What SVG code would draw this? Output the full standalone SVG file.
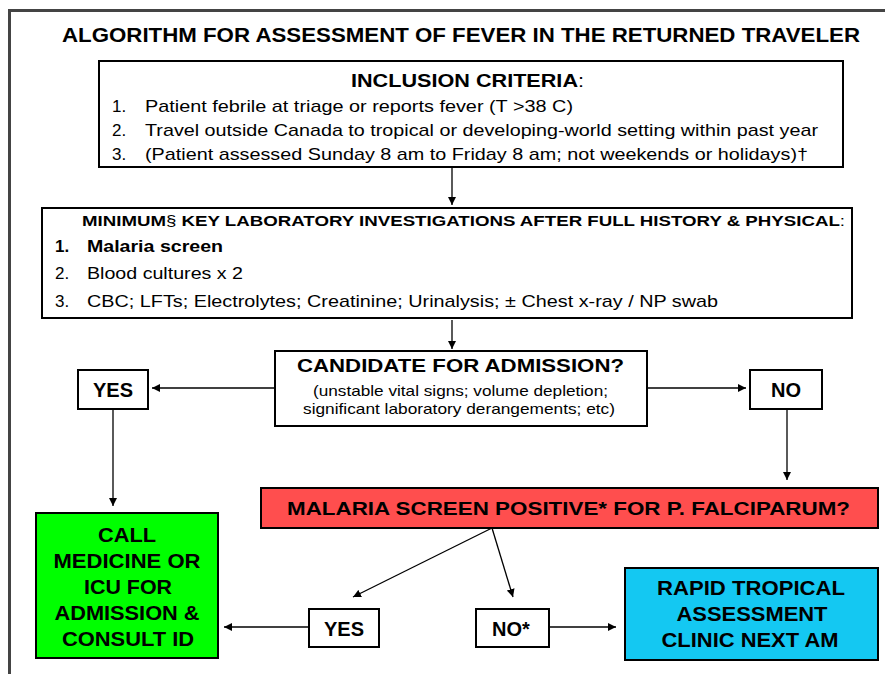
<svg xmlns="http://www.w3.org/2000/svg" width="885" height="674" viewBox="0 0 885 674">
<defs>
<marker id="ah" viewBox="0 0 10 10" refX="10" refY="5" markerWidth="8" markerHeight="8" markerUnits="userSpaceOnUse" orient="auto">
<path d="M0,0 L10,5 L0,10 z" fill="#000"/>
</marker>
<style>
text{font-family:"Liberation Sans",Arial,sans-serif;fill:#000}
.b{font-weight:bold}
.t{font-size:19px;font-weight:bold}
.g{font-size:20px;font-weight:bold}
.body{font-size:17px}
.box{fill:#fff;stroke:#000;stroke-width:2}
.c{text-anchor:middle}
.conn line{stroke:#000;stroke-width:1.3;marker-end:url(#ah)}
</style>
</defs>
<rect x="0" y="0" width="885" height="674" fill="#fff"/>
<rect x="9.5" y="10.5" width="890" height="680" fill="none" stroke="#444" stroke-width="3"/>
<text class="c" font-size="20" font-weight="bold" x="461" y="42" textLength="798" lengthAdjust="spacingAndGlyphs">ALGORITHM FOR ASSESSMENT OF FEVER IN THE RETURNED TRAVELER</text>

<g id="inclusion">
<rect class="box" x="99" y="61" width="744" height="106"/>
<text class="t" x="351" y="87" textLength="233" lengthAdjust="spacingAndGlyphs">INCLUSION CRITERIA<tspan font-weight="normal">:</tspan></text>
<text class="body" x="112" y="112">1.</text>
<text class="body" x="145" y="112" textLength="428" lengthAdjust="spacingAndGlyphs">Patient febrile at triage or reports fever (T &gt;38 C)</text>
<text class="body" x="112" y="136">2.</text>
<text class="body" x="145" y="136" textLength="673" lengthAdjust="spacingAndGlyphs">Travel outside Canada to tropical or developing-world setting within past year</text>
<text class="body" x="112" y="160">3.</text>
<text class="body" x="145" y="160" textLength="663" lengthAdjust="spacingAndGlyphs">(Patient assessed Sunday 8 am to Friday 8 am; not weekends or holidays)†</text>
</g>

<g id="labs">
<rect class="box" x="42" y="208" width="810" height="110"/>
<text class="b" font-size="15" x="82" y="226" textLength="763" lengthAdjust="spacingAndGlyphs">MINIMUM<tspan font-weight="normal">§</tspan> KEY LABORATORY INVESTIGATIONS AFTER FULL HISTORY &amp; PHYSICAL<tspan font-weight="normal">:</tspan></text>
<text class="body b" x="55" y="252">1.</text>
<text class="body b" x="87" y="252" textLength="136" lengthAdjust="spacingAndGlyphs">Malaria screen</text>
<text class="body" x="55" y="279">2.</text>
<text class="body" x="87" y="279" textLength="156" lengthAdjust="spacingAndGlyphs">Blood cultures x 2</text>
<text class="body" x="55" y="307">3.</text>
<text class="body" x="87" y="307" textLength="631" lengthAdjust="spacingAndGlyphs">CBC; LFTs; Electrolytes; Creatinine; Urinalysis; ± Chest x-ray / NP swab</text>
</g>

<g id="candidate">
<rect class="box" x="275" y="351" width="372" height="75"/>
<text class="t" x="297" y="372" textLength="327" lengthAdjust="spacingAndGlyphs">CANDIDATE FOR ADMISSION?</text>
<text font-size="15" x="313" y="396" textLength="295" lengthAdjust="spacingAndGlyphs">(unstable vital signs; volume depletion;</text>
<text font-size="15" x="303" y="414" textLength="312" lengthAdjust="spacingAndGlyphs">significant laboratory derangements; etc)</text>
</g>

<g id="yes1">
<rect class="box" x="78" y="370" width="70" height="39"/>
<text class="g c" x="113" y="397">YES</text>
</g>

<g id="no1">
<rect class="box" x="750" y="370" width="72" height="39"/>
<text class="g c" x="786" y="397">NO</text>
</g>

<g id="malaria">
<rect x="261" y="488" width="617" height="40" fill="#FF4E4E" stroke="#000" stroke-width="2"/>
<text class="t" x="287" y="515" textLength="563" lengthAdjust="spacingAndGlyphs">MALARIA SCREEN POSITIVE* FOR P. FALCIPARUM?</text>
</g>

<g id="admit">
<rect x="36" y="513" width="182" height="145" fill="#00FF00" stroke="#000" stroke-width="2"/>
<text class="g c" x="127" y="542" textLength="58" lengthAdjust="spacingAndGlyphs">CALL</text>
<text class="g c" x="127" y="568" textLength="147" lengthAdjust="spacingAndGlyphs">MEDICINE OR</text>
<text class="g c" x="128" y="594" textLength="88" lengthAdjust="spacingAndGlyphs">ICU FOR</text>
<text class="g c" x="127" y="620" textLength="145" lengthAdjust="spacingAndGlyphs">ADMISSION &amp;</text>
<text class="g c" x="128" y="646" textLength="132" lengthAdjust="spacingAndGlyphs">CONSULT ID</text>
</g>

<g id="yes2">
<rect class="box" x="309" y="609" width="70" height="38"/>
<text class="g c" x="344" y="636">YES</text>
</g>

<g id="no2">
<rect class="box" x="476" y="609" width="73" height="38"/>
<text class="g c" x="511" y="636">NO*</text>
</g>

<g id="clinic">
<rect x="625" y="568" width="253" height="92" fill="#14C8F2" stroke="#000" stroke-width="2"/>
<text class="g c" x="751" y="595" textLength="188" lengthAdjust="spacingAndGlyphs">RAPID TROPICAL</text>
<text class="g c" x="752" y="621" textLength="151" lengthAdjust="spacingAndGlyphs">ASSESSMENT</text>
<text class="g c" x="750" y="647" textLength="177" lengthAdjust="spacingAndGlyphs">CLINIC NEXT AM</text>
</g>

<g id="connectors" class="conn">
<line x1="452" y1="168" x2="452" y2="205"/>
<line x1="452" y1="320" x2="452" y2="349"/>
<line x1="275" y1="388" x2="152" y2="388"/>
<line x1="647" y1="388" x2="746" y2="388"/>
<line x1="787" y1="409" x2="787" y2="480"/>
<line x1="113" y1="409" x2="113" y2="506"/>
<line x1="492" y1="528" x2="353" y2="597"/>
<line x1="492" y1="528" x2="513" y2="597"/>
<line x1="309" y1="627" x2="224" y2="627"/>
<line x1="549" y1="627" x2="616" y2="627"/>
</g>
</svg>
